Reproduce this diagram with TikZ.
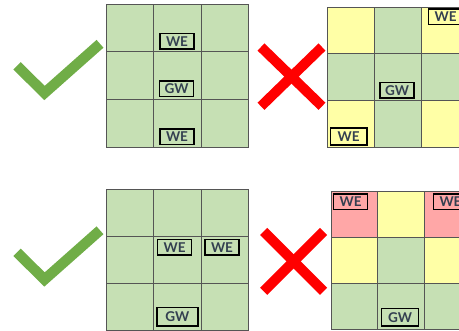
\documentclass[tikz,border=0pt]{standalone}
\usepackage{fontspec}
\setsansfont{Lato}
\definecolor{cgreen}{HTML}{C6E0B4}
\definecolor{cyellow}{HTML}{FFFFA6}
\definecolor{cpink}{HTML}{FFA7A7}
\definecolor{ctext}{HTML}{333F50}
\definecolor{ctick}{HTML}{70AD47}
\definecolor{cline}{HTML}{555555}
\begin{document}
\begin{tikzpicture}[x=1pt,y=-1pt]
	\tikzset{tick/.style={draw=ctick,line width=10.4pt,line join=miter},
		cross/.style={draw=red,line width=10pt},
		cell/.style={draw=cline,line width=0.8pt},
		tag/.style={draw=black,line width=1.5pt,font=\sffamily\bfseries\fontsize{13.5}{13.5}\selectfont,text=ctext,inner sep=0pt,minimum width=34pt,minimum height=15.5pt}}
	\useasboundingbox (0,0) rectangle (459,331);
	\clip (0,0) rectangle (459,331);
	% good / bad marks
	\draw[tick] (17,65.8) -- (44.5,93) -- (100,43.8);
	\draw[tick] (17,252.3) -- (44.5,279.5) -- (100,230.3);
	\draw[cross] (261,47) -- (322,106.3);
	\draw[cross] (261,106.3) -- (322,47);
	\draw[cross] (263.7,231.4) -- (323.6,291.3);
	\draw[cross] (263.7,291.3) -- (323.6,231.4);
	% top left grid
	\foreach \k in {0,...,8}{
		\pgfmathsetmacro\cx{mod(\k,3)}
		\pgfmathsetmacro\ry{floor(\k/3)}
		\draw[cell,fill=cgreen] (106+\cx*47.5,4+\ry*47.7) rectangle ++(47.5,47.7);
	}
	% top right grid
	\foreach \col [count=\k from 0] in {cyellow,cgreen,cyellow,cgreen,cgreen,cgreen,cyellow,cgreen,cyellow}{
		\pgfmathsetmacro\cx{mod(\k,3)}
		\pgfmathsetmacro\ry{floor(\k/3)}
		\draw[cell,fill=\col] (327.7+\cx*46.7,7.3+\ry*46.6) rectangle ++(46.7,46.6);
	}
	% bottom left grid
	\foreach \k in {0,...,8}{
		\pgfmathsetmacro\cx{mod(\k,3)}
		\pgfmathsetmacro\ry{floor(\k/3)}
		\draw[cell,fill=cgreen] (106+\cx*47.5,189+\ry*47) rectangle ++(47.5,47);
	}
	% bottom right grid
	\foreach \col [count=\k from 0] in {cpink,cyellow,cpink,cyellow,cgreen,cyellow,cgreen,cgreen,cgreen}{
		\pgfmathsetmacro\cx{mod(\k,3)}
		\pgfmathsetmacro\ry{floor(\k/3)}
		\draw[cell,fill=\col] (331.3+\cx*46.3,191.7+\ry*46) rectangle ++(46.3,46);
	}
	% labels
	\node[tag,fill=cgreen] (we1) at (177,41.5) {WE};
	\node[tag,fill=cgreen] (gw1) at (176.7,88.7) {GW};
	\node[tag,fill=cgreen] (we2) at (177,136.7) {WE};
	\node[tag,fill=cyellow] (we3) at (445.7,16.7) {WE};
	\node[tag,fill=cgreen] (gw2) at (397.2,90.5) {GW};
	\node[tag,fill=cyellow,minimum width=36.5pt,minimum height=17pt] (we4) at (348.7,136.7) {WE};
	\node[tag,fill=cgreen] (we5) at (174.7,247.3) {WE};
	\node[tag,fill=cgreen] (we6) at (222,247.3) {WE};
	\node[tag,fill=cgreen,minimum width=41pt,minimum height=18.5pt] (gw3) at (177.3,317) {GW};
	\node[tag,fill=cpink] (we7) at (350.7,202) {WE};
	\node[tag,fill=cpink] (we8) at (450.5,202) {WE};
	\node[tag,fill=cgreen,minimum width=37pt,minimum height=17.5pt] (gw4) at (400.2,317.2) {GW};
\end{tikzpicture}
\end{document}
